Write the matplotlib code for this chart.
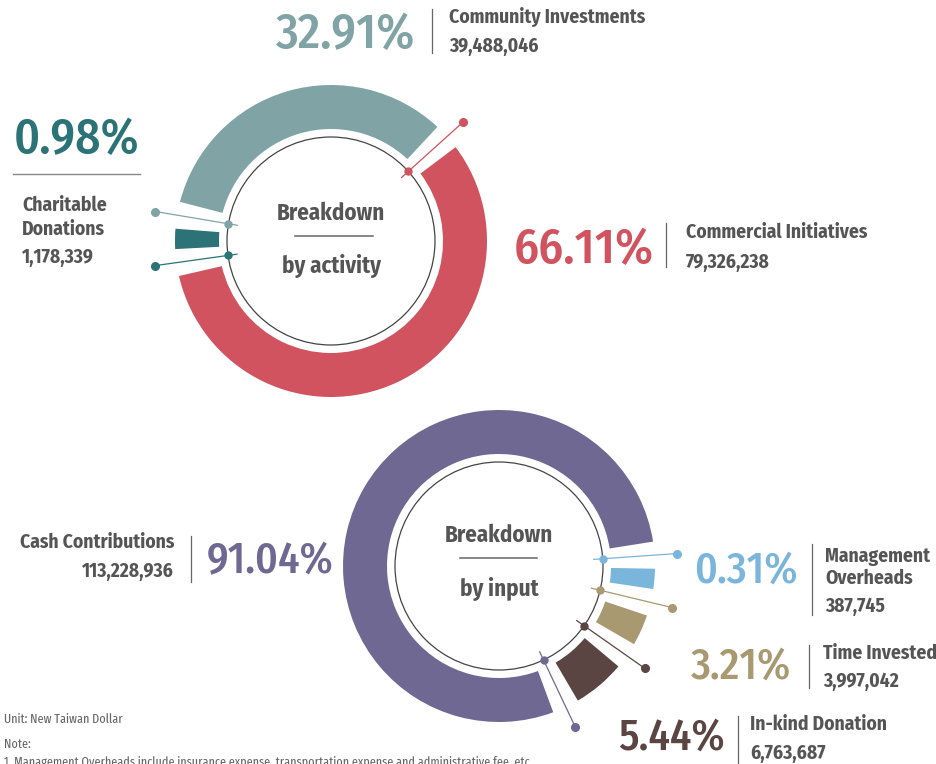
import numpy as np
import matplotlib
matplotlib.use("Agg")
import matplotlib.pyplot as plt
from matplotlib.patches import Wedge, Circle
from matplotlib import font_manager

# Breakdown by activity
activity_labels = ["Community Investments", "Commercial Initiatives", "Charitable Donations"]
activity_values = [39488046, 79326238, 1178339]
activity_pcts = [32.91, 66.11, 0.98]

# Breakdown by input
input_labels = ["Cash Contributions", "Management Overheads", "Time Invested", "In-kind Donation"]
input_values = [113228936, 387745, 3997042, 6763687]
input_pcts = [91.04, 0.31, 3.21, 5.44]

activity_colors = ["#80A3A5", "#D0535F", "#2B7376"]
input_colors = ["#6E6892", "#7AB5DB", "#A89970", "#5A4542"]

W, H = 936, 764
R_OUT, R_IN, R_LINE = 156, 112, 104
GAP, MIN_SPAN = 10, 7.5
GREY = "#555555"


def pick(candidates, fallback="DejaVu Sans"):
    names = {f.name for f in font_manager.fontManager.ttflist}
    for c in candidates:
        if c in names:
            return c
    return fallback


NARROW = pick(["Fira Sans Condensed", "PT Sans Narrow", "Roboto Condensed",
               "IBM Plex Sans Condensed", "Open Sans Condensed"])
NUMF = NARROW
SMALLF = pick(["Fira Sans Extra Condensed", NARROW])


def ring_spans(values):
    # proportional arcs, tiny ones widened, largest takes what's left after gaps
    total = sum(values)
    spans = [max(v / total * 360, MIN_SPAN) for v in values]
    big = int(np.argmax(values))
    spans[big] = 360 - GAP * len(values) - (sum(spans) - spans[big])
    return spans


def draw_ring(ax, center, values, colors, order, start):
    cx, cy = center
    spans = ring_spans(values)
    a = start
    for i in order:
        # marker line in the gap just ahead of each segment
        t = np.radians(a + GAP / 2)
        ux, uy = np.cos(t), np.sin(t)
        ax.plot([cx + 95 * ux, cx + 178 * ux], [cy + 95 * uy, cy + 178 * uy],
                color=colors[i], lw=0.9, zorder=3)
        ax.plot([cx + R_LINE * ux], [cy + R_LINE * uy], "o", color=colors[i], ms=5, zorder=4)
        ax.plot([cx + 178 * ux], [cy + 178 * uy], "o", color=colors[i], ms=5.5, zorder=4)
        ax.add_patch(Wedge(center, R_OUT, a - spans[i], a, width=R_OUT - R_IN,
                           facecolor=colors[i], lw=0, zorder=2))
        a -= spans[i] + GAP
    ax.add_patch(Circle(center, R_LINE, fill=False, ec="#444444", lw=0.9, zorder=2))


def txt(ax, x, y, s, size, color=GREY, ha="left", weight="bold", family=None):
    ax.text(x, H - y, s, fontsize=size, color=color, ha=ha, va="baseline",
            fontweight=weight, family=family or NARROW, zorder=5)


def vline(ax, x, y0, y1):
    ax.plot([x, x], [H - y0, H - y1], color="#666666", lw=0.9)


fig = plt.figure(figsize=(W / 100, H / 100), dpi=100)
ax = fig.add_axes([0, 0, 1, 1])
ax.set_xlim(0, W)
ax.set_ylim(0, H)
ax.axis("off")

top_c = (331, H - 241)
bot_c = (499, H - 566)
draw_ring(ax, top_c, activity_values, activity_colors, [1, 2, 0], 37)
draw_ring(ax, bot_c, input_values, input_colors, [1, 2, 3, 0], -1)

# centre captions
txt(ax, 331, 220, "Breakdown", 16.5, ha="center")
ax.plot([295, 373], [H - 236, H - 236], color="#666666", lw=1.1)
txt(ax, 331, 273, "by activity", 16.5, ha="center")
txt(ax, 499, 542, "Breakdown", 16.5, ha="center")
ax.plot([460, 537], [H - 558, H - 558], color="#666666", lw=1.1)
txt(ax, 499, 596, "by input", 16.5, ha="center")

BIG, MID, LAB = 35.5, 31, 14
PW = 500

# Community Investments
txt(ax, 415, 48, f"{activity_pcts[0]:.2f}%", BIG, activity_colors[0], "right", PW, NUMF)
vline(ax, 432, 9, 53)
txt(ax, 449, 23, activity_labels[0], LAB)
txt(ax, 449, 52, f"{activity_values[0]:,}", LAB)

# Commercial Initiatives
txt(ax, 654, 263, f"{activity_pcts[1]:.2f}%", BIG, activity_colors[1], "right", PW, NUMF)
vline(ax, 666, 223, 267)
txt(ax, 686, 238, activity_labels[1], LAB)
txt(ax, 686, 268, f"{activity_values[1]:,}", LAB)

# Charitable Donations
txt(ax, 14, 153, f"{activity_pcts[2]:.2f}%", BIG, activity_colors[2], "left", PW, NUMF)
ax.plot([13, 140], [H - 174, H - 174], color="#888888", lw=1.0)
first, second = activity_labels[2].split(" ")
txt(ax, 22, 211, first, LAB)
txt(ax, 22, 235, second, LAB)
txt(ax, 22, 263, f"{activity_values[2]:,}", LAB)

# Cash Contributions
txt(ax, 174, 548, input_labels[0], LAB, ha="right")
txt(ax, 174, 577, f"{input_values[0]:,}", LAB, ha="right")
vline(ax, 191, 536, 582)
txt(ax, 207, 573, f"{input_pcts[0]:.2f}%", MID, input_colors[0], "left", PW, NUMF)

# Management Overheads
txt(ax, 798, 583, f"{input_pcts[1]:.2f}%", MID, input_colors[1], "right", PW, NUMF)
vline(ax, 812, 544, 615)
first, second = input_labels[1].split(" ")
txt(ax, 825, 562, first, LAB)
txt(ax, 825, 584, second, LAB)
txt(ax, 825, 612, f"{input_values[1]:,}", LAB)

# Time Invested
txt(ax, 791, 679, f"{input_pcts[2]:.2f}%", MID, input_colors[2], "right", PW, NUMF)
vline(ax, 809, 645, 688)
txt(ax, 823, 659, input_labels[2], LAB)
txt(ax, 823, 687, f"{input_values[2]:,}", LAB)

# In-kind Donation
txt(ax, 725, 750, f"{input_pcts[3]:.2f}%", MID, input_colors[3], "right", PW, NUMF)
vline(ax, 738, 716, 764)
txt(ax, 750, 730, input_labels[3], LAB)
txt(ax, 750, 759, f"{input_values[3]:,}", LAB)

# footnotes
txt(ax, 4, 723, "Unit: New Taiwan Dollar", 9.5, "#666666", weight="normal", family=SMALLF)
txt(ax, 4, 748, "Note:", 9.5, "#666666", weight="normal", family=SMALLF)
txt(ax, 4, 766, "1. Management Overheads include insurance expense, transportation expense "
    "and administrative fee, etc.", 9.5, "#666666", weight="normal", family=SMALLF)

fig.savefig("out.png", dpi=100)
